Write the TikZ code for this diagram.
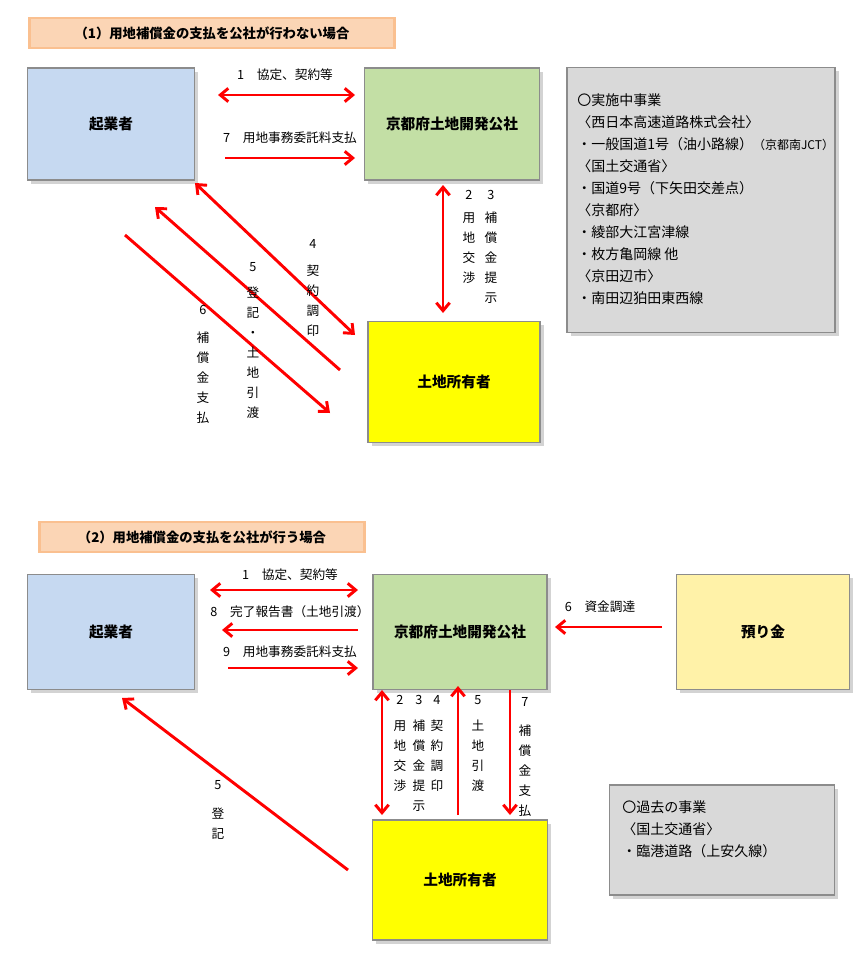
\documentclass[tikz,border=0pt]{standalone}
\usepackage{fontspec}
\setmainfont{Noto Sans CJK JP}
\usetikzlibrary{shadows,arrows.meta}
\definecolor{kigyo}{HTML}{C6D9F1}
\definecolor{kosha}{HTML}{C3DFA5}
\definecolor{shoyu}{HTML}{FFFF00}
\definecolor{azukari}{HTML}{FFF2A8}
\definecolor{info}{HTML}{D9D9D9}
\definecolor{titlebg}{HTML}{FBD5B5}
\definecolor{glow}{HTML}{F79646}
\begin{document}
\begin{tikzpicture}[x=0.75pt,y=-0.75pt]
      \tikzstyle{box}=[draw=black!45,line width=1.2pt,drop shadow={opacity=0.35},font=\fontsize{11}{13}\selectfont\bfseries]
      \tikzstyle{titlebox}=[draw=glow!60,line width=2pt,fill=titlebg,font=\fontsize{10}{12}\selectfont\bfseries]
      \tikzstyle{arrow}=[red,line width=2.2pt,-{Straight Barb[length=6pt,width=10pt]}]
      \tikzstyle{darrow}=[red,line width=2.2pt,{Straight Barb[length=6pt,width=10pt]}-{Straight Barb[length=6pt,width=10pt]}]
      \tikzstyle{lbl}=[font=\fontsize{9.5}{11}\selectfont,inner sep=0pt]
      \tikzstyle{tate}=[font=\fontsize{9.5}{15}\selectfont,align=center,inner sep=0pt,anchor=north]
      \useasboundingbox (0,0) rectangle (865,960);
      % (1)
      \node[titlebox,minimum width=365*0.75pt,minimum height=30*0.75pt] (t1) at (212,33) {（1）用地補償金の支払を公社が行わない場合};
      \node[box,fill=kigyo,minimum width=167*0.75pt,minimum height=112*0.75pt] (k1) at (111,124) {起業者};
      \node[box,fill=kosha,minimum width=175*0.75pt,minimum height=112*0.75pt] (c1) at (452,124) {京都府土地開発公社};
      \node[box,fill=shoyu,minimum width=172*0.75pt,minimum height=121*0.75pt] (s1) at (454,382) {土地所有者};
      \node[box,fill=info,minimum width=268*0.75pt,minimum height=265*0.75pt] (i1) at (701,200) {};
      \node[anchor=north west,align=left,font=\fontsize{10.5}{16.5}\selectfont,inner sep=0pt] (i1t) at (577,93) {〇実施中事業\\〈西日本高速道路株式会社〉\\・一般国道1号（油小路線）{\fontsize{9}{10}\selectfont（京都南JCT）}\\〈国土交通省〉\\・国道9号（下矢田交差点）\\〈京都府〉\\・綾部大江宮津線\\・枚方亀岡線 他\\〈京田辺市〉\\・南田辺狛田東西線};
      \coordinate (a1s) at (218,95); \coordinate (a1e) at (355,95);
      \coordinate (a7s) at (225,158); \coordinate (a7e) at (355,158);
      \coordinate (v1s) at (443,185); \coordinate (v1e) at (443,313);
      \coordinate (d4s) at (195,183); \coordinate (d4e) at (355,335);
      \coordinate (d5s) at (340,370); \coordinate (d5e) at (155,207);
      \coordinate (d6s) at (125,235); \coordinate (d6e) at (330,413);
      \draw[darrow] (a1s)--(a1e);
      \draw[arrow] (a7s)--(a7e);
      \draw[darrow] (v1s)--(v1e);
      \draw[darrow] (d4s)--(d4e);
      \draw[arrow] (d5s)--(d5e);
      \draw[arrow] (d6s)--(d6e);
      \node[lbl] (l1) at (285,75) {1　協定、契約等};
      \node[lbl] (l7) at (290,138) {7　用地事務委託料支払};
      \node[lbl] (n2) at (469,195) {2};
      \node[lbl] (n3) at (491,195) {3};
      \node[tate] (v2) at (469,212) {用\\地\\交\\渉};
      \node[tate] (v3) at (491,212) {補\\償\\金\\提\\示};
      \node[lbl] (n4) at (313,244) {4};
      \node[tate] (v4) at (313,265) {契\\約\\調\\印};
      \node[lbl] (n5) at (253,267) {5};
      \node[tate] (v5) at (253,287) {登\\記\\・\\土\\地\\引\\渡};
      \node[lbl] (n6) at (203,310) {6};
      \node[tate] (v6) at (203,332) {補\\償\\金\\支\\払};
      % (2)
      \node[titlebox,minimum width=325*0.75pt,minimum height=30*0.75pt] (t2) at (202,537) {（2）用地補償金の支払を公社が行う場合};
      \node[box,fill=kigyo,minimum width=167*0.75pt,minimum height=115*0.75pt] (k2) at (111,632) {起業者};
      \node[box,fill=kosha,minimum width=174*0.75pt,minimum height=115*0.75pt] (c2) at (460,632) {京都府土地開発公社};
      \node[box,fill=azukari,minimum width=173*0.75pt,minimum height=115*0.75pt] (m2) at (763,632) {預り金};
      \node[box,fill=shoyu,minimum width=175*0.75pt,minimum height=120*0.75pt] (s2) at (460,880) {土地所有者};
      \node[box,fill=info,minimum width=225*0.75pt,minimum height=110*0.75pt] (i2) at (722,840) {};
      \node[anchor=north west,align=left,font=\fontsize{10.5}{16.5}\selectfont,inner sep=0pt] (i2t) at (622,800) {〇過去の事業\\〈国土交通省〉\\・臨港道路（上安久線）};
      \coordinate (b1s) at (210,590); \coordinate (b1e) at (358,590);
      \coordinate (b8s) at (358,630); \coordinate (b8e) at (222,630);
      \coordinate (b9s) at (228,668); \coordinate (b9e) at (358,668);
      \coordinate (b6s) at (662,627); \coordinate (b6e) at (555,627);
      \coordinate (w2s) at (382,690); \coordinate (w2e) at (382,815);
      \coordinate (w5s) at (458,815); \coordinate (w5e) at (458,686);
      \coordinate (w7s) at (510,690); \coordinate (w7e) at (510,815);
      \coordinate (e5s) at (348,870); \coordinate (e5e) at (122,698);
      \draw[darrow] (b1s)--(b1e);
      \draw[arrow] (b8s)--(b8e);
      \draw[arrow] (b9s)--(b9e);
      \draw[arrow] (b6s)--(b6e);
      \draw[darrow] (w2s)--(w2e);
      \draw[arrow] (w5s)--(w5e);
      \draw[arrow] (w7s)--(w7e);
      \draw[arrow] (e5s)--(e5e);
      \node[lbl] (m1) at (290,575) {1　協定、契約等};
      \node[lbl] (m8) at (290,612) {8　完了報告書（土地引渡）};
      \node[lbl] (m9) at (290,652) {9　用地事務委託料支払};
      \node[lbl] (m6) at (600,607) {6　資金調達};
      \node[lbl] (p2) at (400,700) {2};
      \node[lbl] (p3) at (419,700) {3};
      \node[lbl] (p4) at (437,700) {4};
      \node[tate] (u2) at (400,720) {用\\地\\交\\渉};
      \node[tate] (u3) at (419,720) {補\\償\\金\\提\\示};
      \node[tate] (u4) at (437,720) {契\\約\\調\\印};
      \node[lbl] (p5) at (478,700) {5};
      \node[tate] (u5) at (478,720) {土\\地\\引\\渡};
      \node[lbl] (p7) at (525,702) {7};
      \node[tate] (u7) at (525,725) {補\\償\\金\\支\\払};
      \node[lbl] (q5) at (218,785) {5};
      \node[tate] (r5) at (218,808) {登\\記};
\end{tikzpicture}
\end{document}
